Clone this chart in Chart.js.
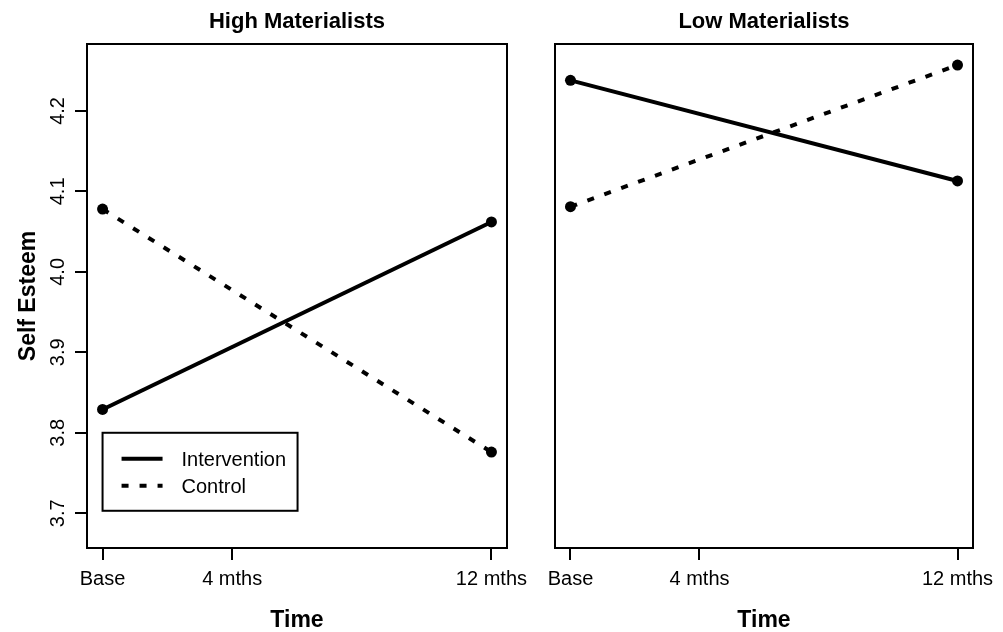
<!DOCTYPE html>
<html>
<head>
<meta charset="utf-8">
<script src="https://cdn.jsdelivr.net/npm/chart.js@4.4.0/dist/chart.umd.min.js"></script>
<style>
body{margin:0;background:#fff;}
#wrap{position:relative;width:1003px;height:632px;}
canvas{position:absolute;top:0;left:0;}
</style>
</head>
<body>
<div id="wrap">
<canvas id="left" width="1003" height="632"></canvas>
<canvas id="right" width="1003" height="632"></canvas>
</div>
<script>
// donnees
const timeLabels = ['Base', '4 mths', '12 mths'];
const timeTicks = [0, 4, 12];
const measureTimes = [0, 12];
const seTicks = [3.7, 3.8, 3.9, 4.0, 4.1, 4.2];
const seLimits = [3.68, 4.26];
const timeLimits = [0, 12];

const highIntervention = [3.829, 4.062];
const highControl = [4.078, 3.776];
const lowIntervention = [4.238, 4.113];
const lowControl = [4.081, 4.257];

const fam = '"Liberation Sans", Arial, Helvetica, sans-serif';
Chart.defaults.font.family = fam;
Chart.defaults.color = '#000';

// etendue a la R (4%)
function ext(r) {
  const d = (r[1] - r[0]) * 0.04;
  return [r[0] - d, r[1] + d];
}
const yr = ext(seLimits);
const xr = ext(timeLimits);

// cadre, titre et legende
const rBox = {
  id: 'rbox',
  afterDraw(chart, args, opts) {
    const ctx = chart.ctx;
    const a = chart.chartArea;
    ctx.save();
    ctx.strokeStyle = '#000';
    ctx.fillStyle = '#000';
    ctx.lineWidth = 2;
    ctx.strokeRect(a.left, a.top, a.right - a.left, a.bottom - a.top);

    ctx.font = 'bold 22px ' + fam;
    ctx.textAlign = 'center';
    ctx.textBaseline = 'middle';
    ctx.fillText(opts.text, (a.left + a.right) / 2, 22);

    if (opts.legend) {
      const x0 = chart.scales.x.getPixelForValue(0);
      const y0 = chart.scales.y.getPixelForValue(3.8);
      ctx.strokeRect(x0, y0, 195, 78);
      ctx.font = '20px ' + fam;
      ctx.textAlign = 'left';
      chart.data.datasets.forEach(function(ds, i) {
        const y = y0 + 26 + i * 27;
        ctx.lineWidth = 4;
        ctx.setLineDash(ds.borderDash || []);
        ctx.beginPath();
        ctx.moveTo(x0 + 19, y);
        ctx.lineTo(x0 + 60, y);
        ctx.stroke();
        ctx.setLineDash([]);
        ctx.fillText(ds.label, x0 + 79, y + 2);
      });
    }
    ctx.restore();
  }
};

function makeChart(id, title, inter, ctrl, showY, pad, showLegend) {
  const ctx = document.getElementById(id).getContext('2d');
  const config = {
    type: 'line',
    data: {
      datasets: [{
        label: 'Intervention',
        data: measureTimes.map(function(t, i) { return {x: t, y: inter[i]}; }),
        borderColor: '#000',
        borderWidth: 4,
        borderDash: [],
        pointRadius: 5.5,
        pointBorderWidth: 0,
        pointBackgroundColor: '#000',
        tension: 0
      }, {
        label: 'Control',
        data: measureTimes.map(function(t, i) { return {x: t, y: ctrl[i]}; }),
        borderColor: '#000',
        borderWidth: 4,
        borderDash: [7, 11],
        pointRadius: 5.5,
        pointBorderWidth: 0,
        pointBackgroundColor: '#000',
        tension: 0
      }]
    },
    options: {
      responsive: false,
      animation: false,
      events: [],
      layout: {padding: pad},
      plugins: {
        legend: {display: false},
        tooltip: {enabled: false},
        rbox: {text: title, legend: showLegend}
      },
      scales: {
        x: {
          type: 'linear',
          min: xr[0],
          max: xr[1],
          afterBuildTicks: function(s) { s.ticks = timeTicks.map(function(v) { return {value: v}; }); },
          afterFit: function(s) { s.height = 84; s.paddingLeft = 0; s.paddingRight = 0; },
          grid: {drawOnChartArea: false, drawTicks: true, tickLength: 12, color: '#000', lineWidth: 2},
          border: {display: false},
          ticks: {
            autoSkip: false, maxRotation: 0, padding: 7,
            font: {size: 20},
            callback: function(v) { return timeLabels[timeTicks.indexOf(v)]; }
          },
          title: {display: true, text: 'Time', font: {size: 23, weight: 'bold', lineHeight: 1}, padding: {top: 0, bottom: 0}}
        },
        y: {
          type: 'linear',
          display: showY,
          min: yr[0],
          max: yr[1],
          afterBuildTicks: function(s) { s.ticks = seTicks.map(function(v) { return {value: v}; }); },
          afterFit: function(s) { s.width = showY ? 87 : 0; s.paddingTop = 0; s.paddingBottom = 0; },
          grid: {drawOnChartArea: false, drawTicks: true, tickLength: 12, color: '#000', lineWidth: 2},
          border: {display: false},
          ticks: {
            minRotation: 90, maxRotation: 90, crossAlign: 'center', padding: 3,
            font: {size: 20},
            callback: function(v) { return v.toFixed(1); }
          },
          title: {display: true, text: 'Self Esteem', font: {size: 23, weight: 'bold', lineHeight: 1}, padding: {top: 17.5, bottom: 0}}
        }
      }
    },
    plugins: [rBox]
  };
  return new Chart(ctx, config);
}

makeChart('left', 'High Materialists', highIntervention, highControl, true, {top: 44, right: 496, bottom: 0, left: 0}, true);
makeChart('right', 'Low Materialists', lowIntervention, lowControl, false, {top: 44, right: 30, bottom: 0, left: 555}, false);
</script>
</body>
</html>
